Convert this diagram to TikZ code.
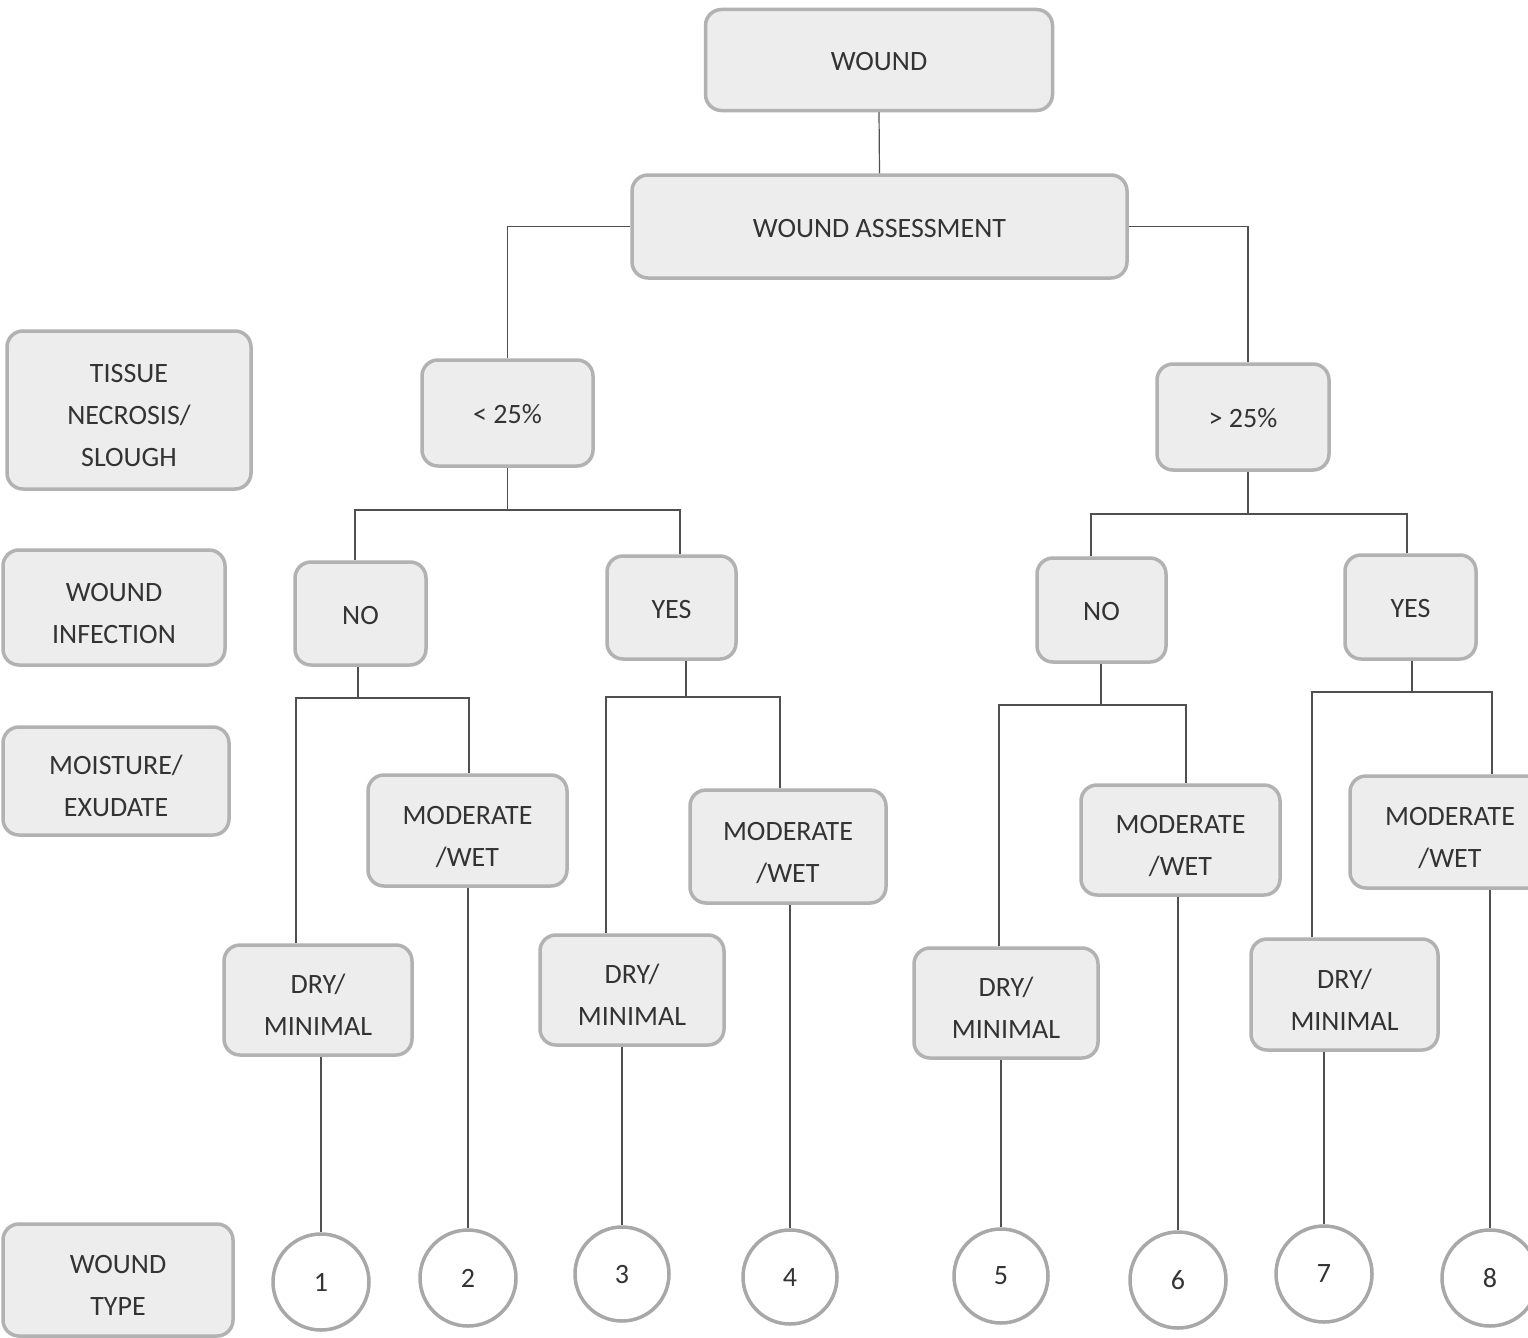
\documentclass[tikz,border=0pt]{standalone}
\usepackage{fontspec}
\setmainfont{Carlito}
\definecolor{boxfill}{HTML}{EDEDED}
\definecolor{boxline}{HTML}{B2B2B2}
\definecolor{circline}{HTML}{A8A8A8}
\definecolor{conn}{HTML}{505050}
% multi-line text, lowered a little inside its box
\newcommand\mtxt[1]{\rule{0pt}{34.4pt}#1\rule[-5pt]{0pt}{5pt}}
% single-line text, lowered slightly
\newcommand\stxt[1]{\rule{0pt}{26.4pt}#1\rule[-5pt]{0pt}{5pt}}
\begin{document}
\begin{tikzpicture}[x=1pt,y=-1pt,
  every node/.style={font=\fontsize{28}{42}\selectfont, text=black!80, inner sep=0pt, align=center},
  gbox/.style={draw=boxline, fill=boxfill, line width=3.5pt, rounded corners=16pt},
  tcirc/.style={circle, draw=circline, fill=white, line width=3.5pt, minimum size=#1},
  link/.style={draw=conn, line width=1.2pt}]
\useasboundingbox (0,0) rectangle (1528,1338);
\clip (0,0) rectangle (1528,1338);
\fill[white] (0,0) rectangle (1528,1338);

% left labels
\node[gbox, minimum width=244pt, minimum height=158pt] (ltis) at (129,410) {\mtxt{TISSUE\\NECROSIS/\\SLOUGH}};
\node[gbox, minimum width=222pt, minimum height=115pt] (linf) at (114,607.5) {\mtxt{WOUND\\INFECTION}};
\node[gbox, minimum width=226pt, minimum height=108pt] (lmoist) at (116,781) {\mtxt{MOISTURE/\\EXUDATE}};
\node[gbox, minimum width=230pt, minimum height=112pt] (ltype) at (118,1280) {\mtxt{WOUND\\TYPE}};

% tree
\node[gbox, minimum width=347pt, minimum height=101pt] (wound) at (879,60) {\stxt{WOUND}};
\node[gbox, minimum width=495pt, minimum height=103pt] (wa) at (879.5,226.5) {\stxt{WOUND ASSESSMENT}};
\node[gbox, minimum width=171pt, minimum height=106pt] (lt) at (507.5,413) {\stxt{< 25\%}};
\node[gbox, minimum width=172pt, minimum height=106pt] (gt) at (1243,417) {\stxt{> 25\%}};

\node[gbox, minimum width=131pt, minimum height=103pt] (no1) at (360.5,613.5) {\stxt{NO}};
\node[gbox, minimum width=129pt, minimum height=103pt] (yes1) at (671.5,607.5) {\stxt{YES}};
\node[gbox, minimum width=129pt, minimum height=104pt] (no2) at (1101.5,610) {\stxt{NO}};
\node[gbox, minimum width=131pt, minimum height=104pt] (yes2) at (1410.5,607) {\stxt{YES}};

\node[gbox, minimum width=199pt, minimum height=111pt] (mod1) at (467.5,830.5) {\mtxt{MODERATE\\/WET}};
\node[gbox, minimum width=188pt, minimum height=110pt] (dry1) at (318,1000) {\mtxt{DRY/\\MINIMAL}};
\node[gbox, minimum width=196pt, minimum height=113pt] (mod2) at (788,846.5) {\mtxt{MODERATE\\/WET}};
\node[gbox, minimum width=184pt, minimum height=110pt] (dry2) at (632,990) {\mtxt{DRY/\\MINIMAL}};
\node[gbox, minimum width=199pt, minimum height=110pt] (mod3) at (1180.5,840) {\mtxt{MODERATE\\/WET}};
\node[gbox, minimum width=184pt, minimum height=110pt] (dry3) at (1006,1003) {\mtxt{DRY/\\MINIMAL}};
\node[gbox, minimum width=200pt, minimum height=112pt] (mod4) at (1450,832) {\mtxt{MODERATE\\/WET}};
\node[gbox, minimum width=187pt, minimum height=111pt] (dry4) at (1344.5,994.5) {\mtxt{DRY/\\MINIMAL}};

% circles
\node[tcirc=96pt] (c1) at (321,1282) {1};
\node[tcirc=96pt] (c2) at (468,1278) {2};
\node[tcirc=94pt] (c3) at (622,1274) {3};
\node[tcirc=94pt] (c4) at (790,1277) {4};
\node[tcirc=94pt] (c5) at (1001,1276) {5};
\node[tcirc=96pt] (c6) at (1178,1280) {6};
\node[tcirc=96pt] (c7) at (1324,1274) {7};
\node[tcirc=96pt] (c8) at (1490,1278) {8};

% junction coordinates
\coordinate (jl1) at (355,510);  \coordinate (jr1) at (680,510);
\coordinate (jl2) at (1091,514); \coordinate (jr2) at (1407,514);
\coordinate (m1) at (358,698);  \coordinate (m2) at (686,697);
\coordinate (m3) at (1101,705); \coordinate (m4) at (1412,692);
\coordinate (g1) at (1248,514);
\coordinate (a1) at (296,698);  \coordinate (b1) at (469,698);
\coordinate (a2) at (606,697);  \coordinate (b2) at (780,697);
\coordinate (a3) at (999,705);  \coordinate (b3) at (1186,705);
\coordinate (a4) at (1312,692); \coordinate (b4) at (1492,692);

% connectors
\draw[link] (wound.south) -- (wa.north);
\draw[link] (wa.west) -| (lt.north);
\draw[link] (wa.east) -| (g1 |- gt.north);

\draw[link] (lt.south) -- (lt.south |- jl1);
\draw[link] (jl1 |- no1.north) |- (jr1) -- (jr1 |- yes1.north);
\draw[link] (g1 |- gt.south) -- (g1);
\draw[link] (jl2 |- no2.north) |- (jr2) -- (jr2 |- yes2.north);

\draw[link] (m1 |- no1.south) -- (m1);
\draw[link] (a1 |- dry1.north) |- (b1) -- (b1 |- mod1.north);
\draw[link] (m2 |- yes1.south) -- (m2);
\draw[link] (a2 |- dry2.north) |- (b2) -- (b2 |- mod2.north);
\draw[link] (m3 |- no2.south) -- (m3);
\draw[link] (a3 |- dry3.north) |- (b3) -- (b3 |- mod3.north);
\draw[link] (m4 |- yes2.south) -- (m4);
\draw[link] (a4 |- dry4.north) |- (b4) -- (b4 |- mod4.north);

\draw[link] (c1.north |- dry1.south) -- (c1.north);
\draw[link] (c2.north |- mod1.south) -- (c2.north);
\draw[link] (c3.north |- dry2.south) -- (c3.north);
\draw[link] (c4.north |- mod2.south) -- (c4.north);
\draw[link] (c5.north |- dry3.south) -- (c5.north);
\draw[link] (c6.north |- mod3.south) -- (c6.north);
\draw[link] (c7.north |- dry4.south) -- (c7.north);
\draw[link] (c8.north |- mod4.south) -- (c8.north);
\end{tikzpicture}
\end{document}
